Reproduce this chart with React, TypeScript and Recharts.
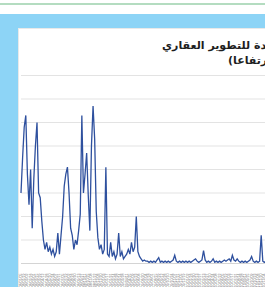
import { LineChart, Line, XAxis, YAxis, CartesianGrid } from 'recharts';

// weekly closing values (grid step = 10)
const values2008 = [
  30, 45, 58, 63, 38, 25, 40, 15, 36, 50, 60, 30, 28, 18, 10, 6, 9, 5, 7, 4,
  6, 3, 5, 13, 4, 12, 20, 33, 38, 41, 30, 15, 12, 6, 10, 8, 14, 21,
];
const values2009 = [
  63, 30, 38, 47, 29, 14, 50, 67, 53, 22, 11, 6, 8, 4, 6, 41, 4, 3, 9, 3,
  5, 2, 4, 13, 3, 5, 2, 3, 4, 6, 4, 9, 5, 7, 20, 5, 3, 2, 1, 1.5,
];
const values2010 = [
  1, 1, 0.5, 1, 0.5, 1, 0.5, 1.5, 2.5, 0.5, 1, 0.5, 1, 0.5, 1, 0.5, 1, 1.5, 3.5, 1,
  0.5, 1, 0.5, 1, 0.5, 1, 0.5, 1, 0.5, 1, 1.5, 2, 1, 0.5, 1, 1.5, 5.5, 1.5,
];
const values2011 = [
  0.5, 1, 0.5, 1, 2, 0.5, 1, 0.5, 1, 0.5, 1, 1.5, 1, 1.5, 2, 1, 3.5, 1.5, 1, 2,
  1, 0.5, 1, 0.5, 1, 0.5, 1, 1.5, 3, 1, 0.5, 1, 0.5, 1, 12, 1, 0.5, 1,
];

const values = [...values2008, ...values2009, ...values2010, ...values2011];

// weekly date labels
const startDate = new Date(2008, 0, 5);
const dateLabels = values.map((_, i) => {
  const d = new Date(startDate.getTime() + i * 7 * 86400000);
  const mm = String(d.getMonth() + 1).padStart(2, '0');
  const dd = String(d.getDate()).padStart(2, '0');
  return `${d.getFullYear()}/${mm}/${dd}`;
});

const yTicks = [0, 10, 20, 30, 40, 50, 60, 70, 80];

const titleLine1 = 'سهم الشركة المتحدة للتطوير العقاري';
const titleLine2 = '(الأكثر ارتفاعا)';

const data = values.map((v, i) => ({ date: dateLabels[i], value: v }));

const DateTick = ({ x, y, payload }: any) => (
  <text
    x={x}
    y={y + 2}
    transform={`rotate(-90, ${x}, ${y + 2})`}
    textAnchor="end"
    dominantBaseline="central"
    fontSize={3.6}
    fill="#6f6f6f"
    fontFamily="Liberation Sans, Arial, sans-serif"
  >
    {payload.value}
  </text>
);

export default function App() {
  return (
    <div style={{ position: 'fixed', left: 0, top: 0, width: 265, height: 287, overflow: 'hidden', background: '#fff' }}>
      {/* green rule at the top */}
      <div style={{ position: 'absolute', left: 0, top: 3, width: 265, height: 2, background: '#b4dcc0' }} />
      {/* blue frame */}
      <div style={{ position: 'absolute', left: 0, top: 14, width: 265, height: 273, background: '#8dd4f6' }} />
      {/* white panel */}
      <div style={{ position: 'absolute', left: 18, top: 28, width: 260, height: 270, background: '#fff', borderTop: '1px solid #e9e9e9', borderLeft: '1px solid #e9e9e9' }} />

      <div style={{ position: 'absolute', left: 162, top: 38.5, whiteSpace: 'nowrap', direction: 'rtl', font: 'bold 11px "DejaVu Sans", sans-serif', color: '#1e1e1e' }}>
        {titleLine1}
      </div>
      <div style={{ position: 'absolute', left: 228, top: 53.5, whiteSpace: 'nowrap', direction: 'rtl', font: 'bold 11px "DejaVu Sans", sans-serif', color: '#1e1e1e' }}>
        {titleLine2}
      </div>

      <div style={{ position: 'absolute', left: 0, top: 0 }}>
        <LineChart width={268} height={300} data={data} margin={{ top: 75.5, right: 2, left: 21, bottom: 0 }}>
          <CartesianGrid vertical={false} stroke="#e3e3e3" />
          <XAxis
            dataKey="date"
            interval={1}
            height={36.5}
            tickLine={false}
            axisLine={{ stroke: '#d4d4d4' }}
            tick={<DateTick />}
          />
          <YAxis hide domain={[0, 80]} ticks={yTicks} />
          <Line
            type="linear"
            dataKey="value"
            stroke="#2e509e"
            strokeWidth={1.3}
            dot={false}
            isAnimationActive={false}
          />
        </LineChart>
      </div>
    </div>
  );
}
